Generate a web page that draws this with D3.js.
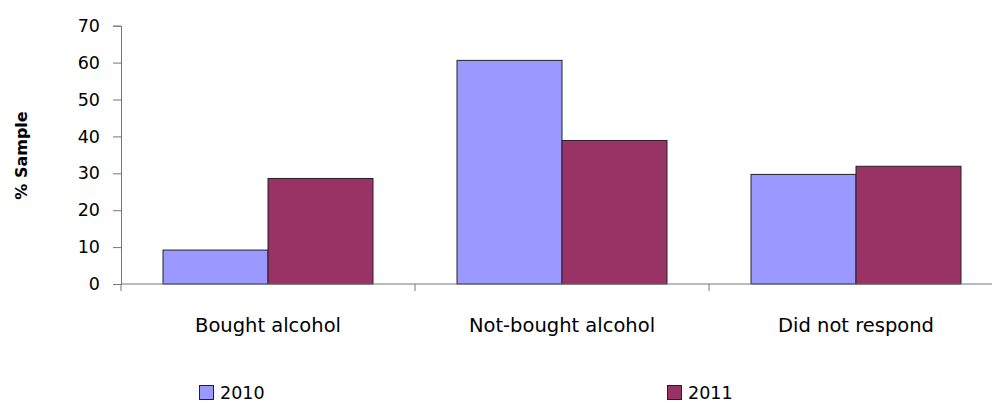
<!DOCTYPE html>
<html>
<head>
<meta charset="utf-8">
<script src="https://cdn.jsdelivr.net/npm/d3@7"></script>
<style>
  html, body { margin: 0; padding: 0; background: #fff; }
  svg text { font-family: "DejaVu Sans", Verdana, sans-serif; fill: #000; }
</style>
</head>
<body>
<svg id="chart" width="992" height="403"></svg>
<script>
const categories = ["Bought alcohol", "Not-bought alcohol", "Did not respond"];
const seriesNames = ["2010", "2011"];
const values2010 = [9.2, 60.6, 29.7];
const values2011 = [28.6, 38.9, 31.9];
const yTicks = [0, 10, 20, 30, 40, 50, 60, 70];
const colors = ["#9999FF", "#993366"];

const svg = d3.select("#chart");
const margin = { left: 121, top: 25.7, bottom: 284 };
const bandWidth = 294;

const x = d3.scaleBand()
  .domain(categories)
  .range([margin.left, margin.left + bandWidth * categories.length])
  .paddingInner(0)
  .paddingOuter(0);

// two bars per category, with gaps of 0.4 bar widths on either side
const xInner = d3.scaleBand()
  .domain(seriesNames)
  .range([0, x.bandwidth()])
  .paddingInner(0)
  .paddingOuter(0.4);

const y = d3.scaleLinear().domain([0, 70]).range([margin.bottom, margin.top]);

const data = categories.map((c, i) => ({ cat: c, vals: [values2010[i], values2011[i]] }));

// bars
const groups = svg.append("g").selectAll("g").data(data).join("g")
  .attr("transform", d => `translate(${x(d.cat)},0)`);
groups.selectAll("rect").data(d => d.vals.map((v, j) => ({ v, s: seriesNames[j], j })))
  .join("rect")
  .attr("x", d => xInner(d.s))
  .attr("y", d => y(d.v))
  .attr("width", xInner.bandwidth())
  .attr("height", d => y(0) - y(d.v))
  .attr("fill", d => colors[d.j])
  .attr("stroke", "#222")
  .attr("stroke-width", 1);

// y axis
const yAxis = svg.append("g")
  .attr("transform", `translate(${margin.left},0)`)
  .call(d3.axisLeft(y).tickValues(yTicks).tickSize(8).tickPadding(13));
yAxis.select(".domain").attr("stroke", "#777");
yAxis.selectAll(".tick line").attr("stroke", "#777");
yAxis.selectAll("text").attr("font-size", 17.5);

// x axis
const xAxisG = svg.append("g").attr("transform", `translate(0,${margin.bottom})`);
xAxisG.append("line")
  .attr("x1", margin.left).attr("x2", 992)
  .attr("stroke", "#777");
const boundaries = categories.map(c => x(c)).concat([x(categories[categories.length - 1]) + x.bandwidth()]);
xAxisG.selectAll("line.tk").data(boundaries).join("line")
  .attr("class", "tk")
  .attr("x1", d => d).attr("x2", d => d)
  .attr("y1", 0).attr("y2", 7)
  .attr("stroke", "#777");
xAxisG.selectAll("text").data(categories).join("text")
  .attr("x", d => x(d) + x.bandwidth() / 2)
  .attr("y", 47.5)
  .attr("text-anchor", "middle")
  .attr("font-size", 19.5)
  .text(d => d);

// y axis title
svg.append("text")
  .attr("transform", "translate(27,155.5) rotate(-90)")
  .attr("text-anchor", "middle")
  .attr("font-size", 16)
  .attr("font-weight", "bold")
  .text("% Sample");

// legend
const legendX = [199, 667];
const legend = svg.append("g").selectAll("g").data(seriesNames).join("g")
  .attr("transform", (d, i) => `translate(${legendX[i]},385)`);
legend.append("rect")
  .attr("x", 0.5).attr("y", 0.5)
  .attr("width", 14).attr("height", 14)
  .attr("fill", (d, i) => colors[i])
  .attr("stroke", "#222");
legend.append("text")
  .attr("x", 21).attr("y", 14)
  .attr("font-size", 17.5)
  .text(d => d);
</script>
</body>
</html>
